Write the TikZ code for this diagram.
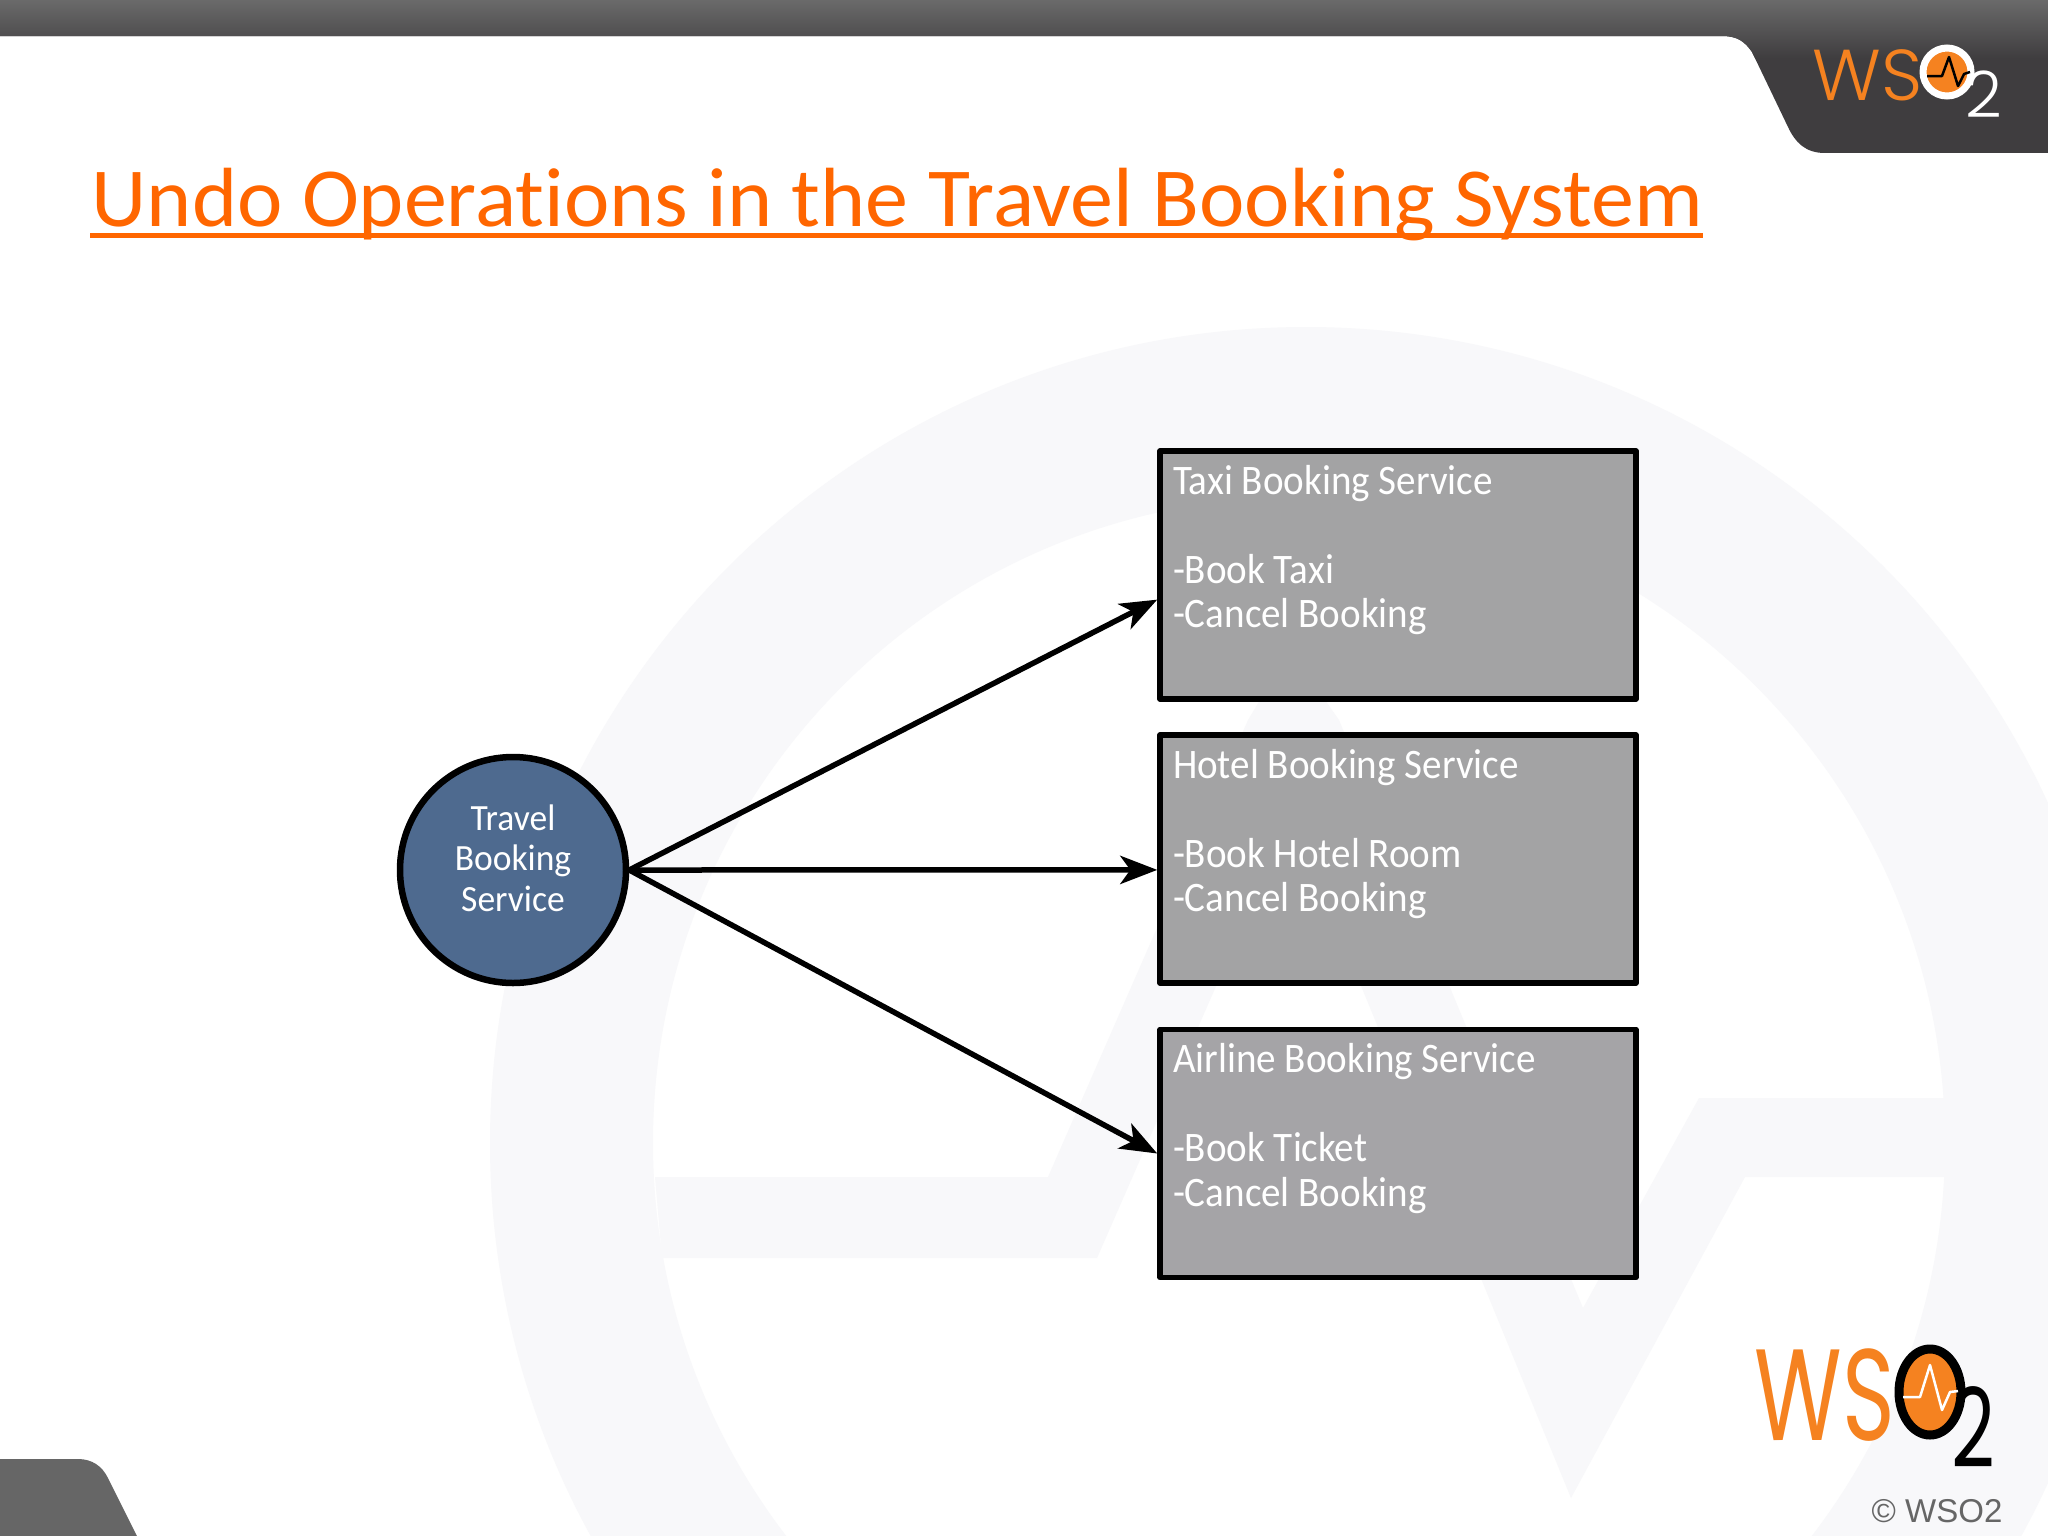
\documentclass[tikz,border=0pt]{standalone}
\usepackage{graphicx}
\usepackage{fontspec}
\setmainfont{Carlito}
\newfontfamily\titlefont{Carlito}[FakeStretch=1.024,Ligatures=NoCommon]
\newfontfamily\svcfont{Carlito}[FakeStretch=0.93,Ligatures=NoCommon]
\newfontfamily\hubfont{Carlito}[FakeStretch=0.96,Ligatures=NoCommon]
\newfontfamily\logofont{Poppins Light}
\newfontfamily\logofontB{Poppins}[FakeStretch=0.69]
\newfontfamily\logofontT{Poppins Light}
\newfontfamily\copyfont{Liberation Sans}
\usetikzlibrary{arrows.meta,shapes.geometric}
\definecolor{wsoorange}{HTML}{F58220}
\definecolor{titleorange}{HTML}{FF6600}
\definecolor{barlight}{HTML}{6A6A6A}
\definecolor{bardark}{HTML}{3F3D3F}
\definecolor{cornergrey}{HTML}{666666}
\definecolor{markgrey}{HTML}{F8F8FA}
\definecolor{boxgrey}{HTML}{A3A3A4}
\definecolor{boxgreyb}{HTML}{A5A4A7}
\definecolor{circleblue}{HTML}{4E6A8F}
\newdimen\px \px=0.01cm
\newcommand{\svctext}[3]{\parbox[c][#1\px][t]{450\px}{\svcfont\fontsize{42\px}{44.5\px}\selectfont\vspace*{9\px}\strut #2\\[0pt]\strut\\[0pt]\strut #3}}
\tikzset{
  svcbox/.style={draw=black,line width=5.5\px,fill=boxgrey,text=white,rectangle,line join=round,
    inner xsep=13\px,inner ysep=0pt,minimum width=476\px,minimum height=248\px},
  hub/.style={circle,draw=black,line width=6.5\px,fill=circleblue,text=white,align=center,
    minimum size=226\px,inner sep=0pt,font=\hubfont\fontsize{37\px}{40.5\px}\selectfont},
  call/.style={line width=5.5\px,draw=black,-{Stealth[length=10.5pt,width=8pt,inset=2.85pt]}},
  wmark/.style={fill=markgrey,draw=none},
  logotext/.style={inner sep=0pt,anchor=base west}
}
\begin{document}
\begin{tikzpicture}[x=0.01cm,y=-0.01cm]
\useasboundingbox (0,0) rectangle (2048,1536);
\fill[white] (0,0) rectangle (2048,1536);
% watermark
\begin{scope}
\clip (0,0) rectangle (2048,1536);
\fill[wmark,even odd rule] (1306,1143) circle[radius=816] (1299,1143) circle[radius=646];
\fill[wmark] (655,1177) -- (1048,1177) -- (1248,720) -- (1290,650) -- (1339,720) -- (1583,1308) -- (1699,1098) -- (1950,1098) -- (1950,1177) -- (1745,1177) -- (1571,1498) -- (1291,815) -- (1097,1258) -- (662,1258) -- cycle;
\end{scope}
% top bar
\begin{scope}
\clip (0,0) -- (2048,0) -- (2048,153) -- (1825,153) .. controls (1805,153) and (1795,142) .. (1788,127) -- (1752,52) .. controls (1745,42) and (1738,36) .. (1722,36) -- (0,36) -- cycle;
\fill[bardark] (0,0) rectangle (2048,153);
\shade[top color=barlight,bottom color=bardark] (0,0) rectangle (2048,58);
\end{scope}
% corner
\fill[cornergrey] (0,1459) -- (78,1459) .. controls (92,1459) and (102,1466) .. (108,1478) -- (137,1536) -- (0,1536) -- cycle;
% title
\node[inner sep=0pt,anchor=base west,text=titleorange,font=\titlefont\fontsize{84\px}{90\px}\selectfont] (title) at (91,226) {Undo Operations in the Travel Booking System};
\coordinate (ula) at (90,235.5);
\coordinate (ulb) at (1703,235.5);
\draw[titleorange,line width=5.5\px] (ula) -- (ulb);
% service boxes
\node[svcbox] (taxi) at (1398,575) {\svctext{242}{Taxi Booking Service}{-Book Taxi\\[0pt]\strut -Cancel Booking}};
\node[svcbox] (hotel) at (1398,859) {\svctext{242}{Hotel Booking Service}{-Book Hotel Room\\[0pt]\strut -Cancel Booking}};
\node[svcbox,fill=boxgreyb] (air) at (1398,1153.5) {\svctext{242}{Airline Booking Service}{-Book Ticket\\[0pt]\strut -Cancel Booking}};
\node[hub] (travel) at (513,870) {Travel\\Booking\\Service\rule[-24\px]{0pt}{0pt}};
\draw[call] (travel.east) -- ([yshift=-7pt]taxi.west);
\draw[call] (travel.east) -- ([yshift=-3.1pt]hotel.west);
\draw[call] (travel.east) -- (air.west);
% top logo
\node[logotext,text=wsoorange,font=\logofontT\fontsize{72\px}{72\px}\selectfont] (wsa) at (1812,100) {WS};
\node[circle,fill=wsoorange,draw=white,line width=7\px,minimum size=48\px,inner sep=0pt] (oa) at (1947,72) {};
\draw[black,line width=2.5\px,line join=round] (1927,76) -- (1942,76) -- (1949,57) -- (1958,86) -- (1964,74) -- (1970,72);
\node[logotext,text=white,font=\logofont\fontsize{64\px}{64\px}\selectfont] (twoa) at (1965,117) {2};
% bottom logo
\node[logotext,text=wsoorange,font=\logofontB\fontsize{130\px}{130\px}\selectfont] (wsb) at (1754,1440) {WS};
\node[ellipse,fill=wsoorange,draw=black,line width=9\px,minimum width=62\px,minimum height=86\px,inner sep=0pt] (ob) at (1930,1392) {};
\draw[white,line width=2.5\px,line join=round] (1903,1397) -- (1920,1397) -- (1930,1365) -- (1942,1410) -- (1950,1392) -- (1958,1391);
\node[logotext,text=black,font=\logofontB\fontsize{110\px}{110\px}\selectfont] (twob) at (1951,1467) {2};
\node[inner sep=0pt,anchor=base west,text=cornergrey,font=\copyfont\fontsize{33\px}{33\px}\selectfont] (copy) at (1871,1522) {© WSO2};
\end{tikzpicture}
\end{document}
